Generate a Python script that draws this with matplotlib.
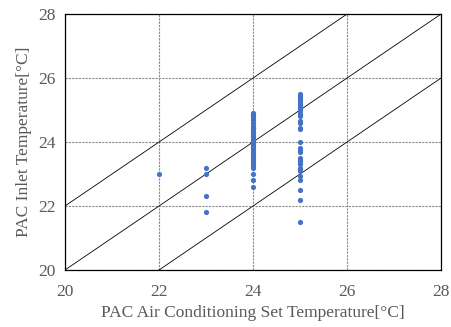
import matplotlib
matplotlib.use("Agg")
import matplotlib.pyplot as plt

plt.rcParams['font.family'] = ['Liberation Serif', 'DejaVu Serif']

# Set temperature vs measured inlet temperature
set_22 = [23.0]
set_23 = [23.2, 23.0, 22.3, 21.8]
set_24 = [24.9, 24.85, 24.8, 24.75, 24.7, 24.6, 24.5, 24.45, 24.4, 24.35, 24.3,
          24.25, 24.2, 24.15, 24.1, 24.05, 24.0, 23.95, 23.9, 23.85, 23.8, 23.75,
          23.7, 23.65, 23.6, 23.55, 23.5, 23.45, 23.4, 23.35, 23.3, 23.25, 23.2,
          23.0, 22.8, 22.6]
set_25 = [25.5, 25.45, 25.4, 25.35, 25.3, 25.25, 25.2, 25.15, 25.1, 25.05, 25.0,
          24.9, 24.85, 24.8, 24.65, 24.6, 24.45, 24.4, 24.0, 23.8, 23.75, 23.7,
          23.5, 23.45, 23.4, 23.35, 23.3, 23.2, 23.15, 23.1, 22.95, 22.8, 22.5,
          22.2, 21.5]
groups = {22: set_22, 23: set_23, 24: set_24, 25: set_25}

ticks = [20, 22, 24, 26, 28]
offsets = [2, 0, -2]  # reference lines y = x + offset

fig = plt.figure(figsize=(4.52, 3.27), dpi=100)
ax = fig.add_axes([0.1438, 0.1743, 0.8319, 0.7827])

for offset in offsets:
    ax.plot([20, 28], [20 + offset, 28 + offset], color='black', lw=0.6, zorder=2)

for sx, ys in groups.items():
    ax.scatter([sx] * len(ys), ys, s=14, color='#4472C4', linewidths=0, zorder=3)

ax.set_xlim(20, 28)
ax.set_ylim(20, 28)
ax.set_xticks(ticks)
ax.set_yticks(ticks)
ax.grid(True, color='#8c8c8c', lw=0.8, ls=(0, (2, 1)), zorder=1)
ax.set_axisbelow(True)
ax.tick_params(axis='x', length=0, labelsize=12.5, labelcolor='#595959', pad=10)
ax.tick_params(axis='y', length=0, labelsize=12.5, labelcolor='#595959', pad=7)
for sp in ax.spines.values():
    sp.set_color('black')
    sp.set_linewidth(0.9)

ax.set_xlabel('PAC Air Conditioning Set Temperature[°C]', fontsize=12.5,
              color='#595959', labelpad=4)
ax.set_ylabel('PAC Inlet Temperature[°C]', fontsize=12.5, color='#595959',
              labelpad=4)

fig.savefig('out.png', dpi=100)
